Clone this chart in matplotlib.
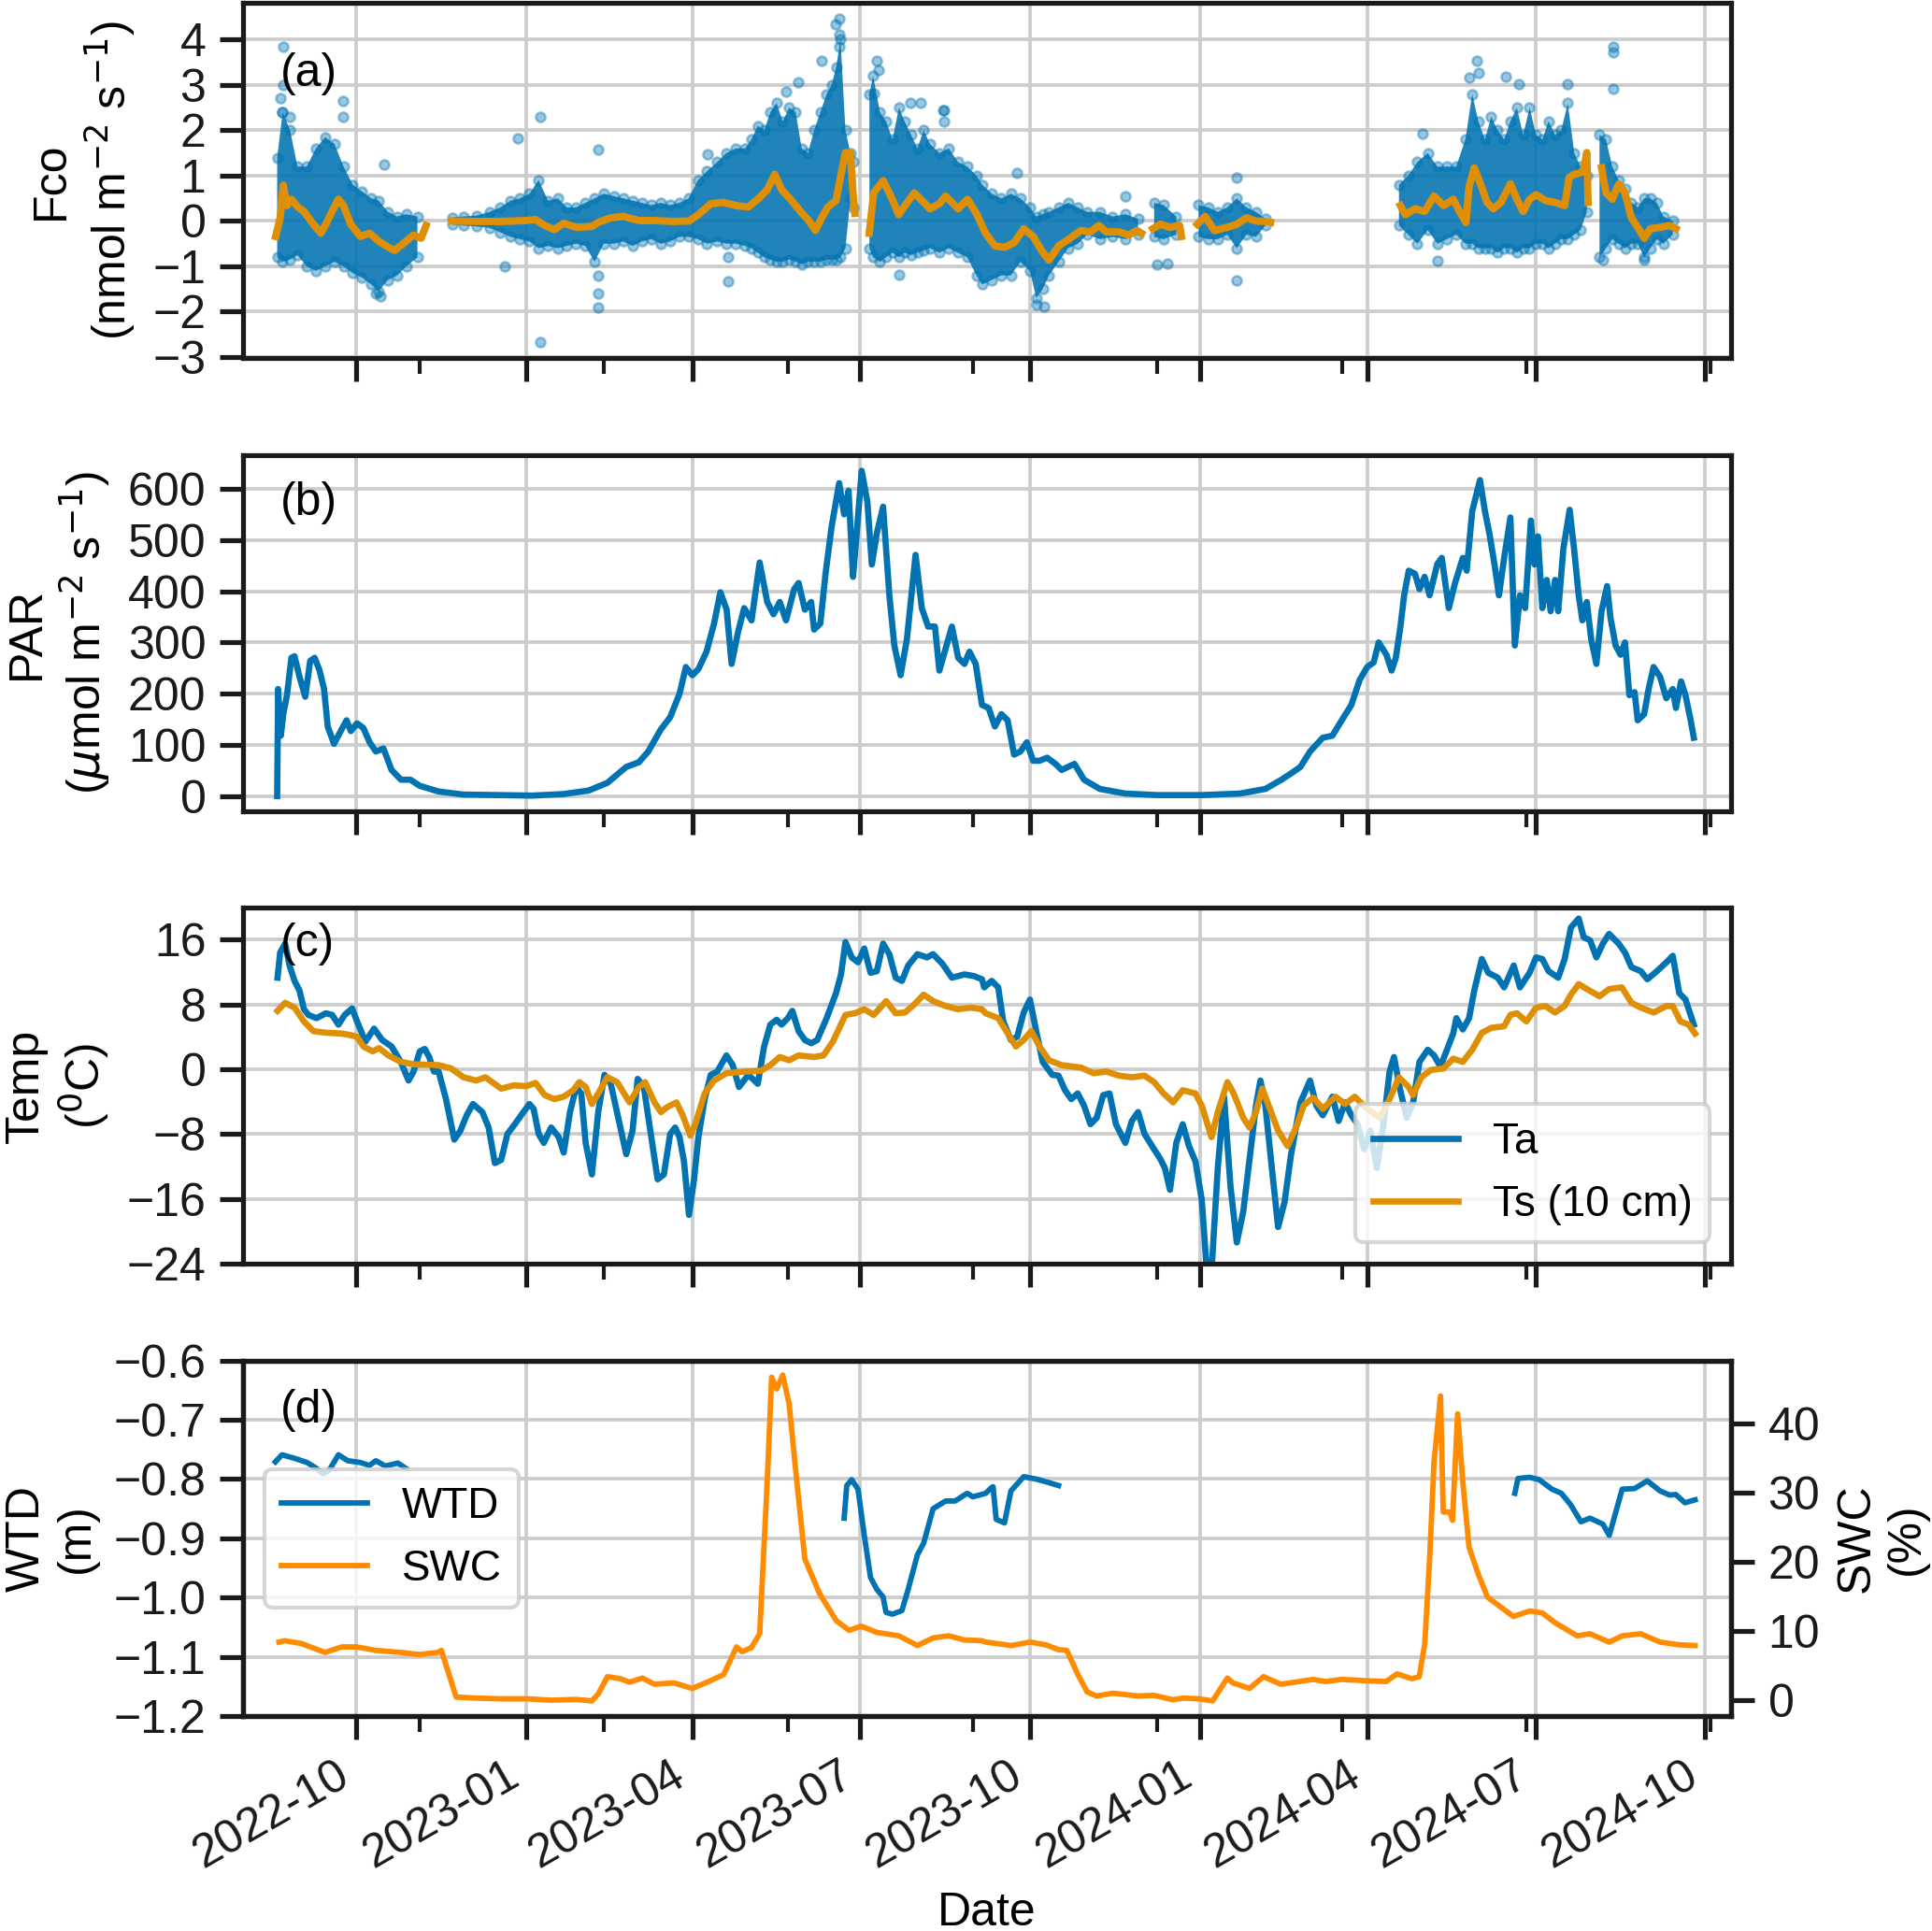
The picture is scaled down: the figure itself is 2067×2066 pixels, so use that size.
import numpy as np
import matplotlib
matplotlib.use("Agg")
import matplotlib.pyplot as plt
import matplotlib.dates as mdates
from matplotlib.ticker import MultipleLocator
from matplotlib.lines import Line2D
from datetime import datetime

plt.rcParams['font.family'] = ['Liberation Sans', 'DejaVu Sans']
plt.rcParams['axes.unicode_minus'] = True

nan = np.nan
BASE = "2022-10-01"   # day offsets below are counted from this date

# ---------------- (a) Fco ----------------
# envelope of the dense point cloud: day offset, low, high
fco_env_day = [-43, -40, -36, -32, -27, -22, -17, -12, -7, -2, 3, 8, 12, 17, 22, 27, 33, nan,
               52, 58, 65, 72, 78, 83.5, 88.6, 93.7, 98.7, 103.8, 109, 114, 119, 124, 129, 134, 139.5,
               144.6, 149.6, 154.7, 159.8, 164.9, 170, 175, 180, 185, 190, 195.5, 200.5, 205.6, 210.7,
               214, 217.5, 221, 224.3, 227.7, 231, 234.5, 238, 241.3, 244.7, 248, 251.4, 254.8, 257.5,
               260, 262.3, 265, 267.7, 269.4, nan,
               278, 280, 283.7, 287, 290.5, 294, 297, 300.6, 304, 307.4, 310.8, 315.9, 321, 326, 331, 336,
               339.1, 344.3, 349.5, 354.7, 359.8, 365, 368.4, 371.9, 375.3, 380.5, 385.7, 390.9, 396,
               403, 409.8, 416.7, 423.6, nan, 432.3, 437.4, 444.3, nan,
               456.4, 461.6, 466.8, 471.9, 477.1, 482.3, 487.5, 492.6, nan,
               565, 570, 575, 580.6, 585.8, 591, 596, 601, 604.7, 608, 611.6, 615, 618.5, 622, 625.4,
               628.9, 632.3, 635.8, 639.3, 642.7, 646.1, 649.6, 653, 656.5, 660, 663.4, 666.8, nan,
               673.7, 677.2, 680.6, 684.1, 687.5, 691, 694.4, 697.9, 701.3, 704.8, 708.3, 713.4]
fco_env_low = [-0.8, -0.9, -0.85, -0.75, -1.0, -1.1, -1.0, -0.9, -1.0, -1.15, -1.25, -1.4, -1.55, -1.3, -1.2, -1.0, -0.8, nan,
               -0.08, -0.1, -0.12, -0.15, -0.25, -0.35, -0.4, -0.45, -0.6, -0.55, -0.6, -0.55, -0.5, -0.55, -0.9, -0.5, -0.5,
               -0.45, -0.55, -0.45, -0.4, -0.5, -0.45, -0.35, -0.35, -0.4, -0.5, -0.45, -0.5, -0.5, -0.55,
               -0.6, -0.7, -0.8, -0.85, -0.9, -0.9, -0.85, -0.9, -0.95, -0.9, -0.9, -0.9, -0.85, -0.85,
               -0.85, -0.8, -0.6, 0.5, 0.3, nan,
               -0.6, -0.8, -0.9, -0.8, -0.7, -0.8, -0.7, -0.75, -0.7, -0.65, -0.6, -0.7, -0.6, -0.7, -0.8, -1.2,
               -1.4, -1.3, -1.2, -1.2, -0.9, -1.1, -1.7, -1.5, -1.2, -0.9, -0.6, -0.5, -0.3,
               -0.4, -0.35, -0.4, -0.3, nan, -0.35, -0.4, -0.3, nan,
               -0.35, -0.4, -0.4, -0.3, -0.6, -0.3, -0.35, -0.1, nan,
               -0.1, -0.3, -0.5, -0.2, -0.5, -0.4, -0.3, -0.5, -0.5, -0.6, -0.6, -0.6, -0.7, -0.6, -0.6,
               -0.7, -0.6, -0.6, -0.5, -0.5, -0.6, -0.5, -0.4, -0.4, -0.3, -0.2, 0.2, nan,
               -0.8, -0.6, -0.4, -0.5, -0.6, -0.5, -0.5, -0.8, -0.6, -0.4, -0.5, -0.3]
fco_env_high = [1.4, 2.4, 2.0, 1.2, 1.2, 1.6, 1.85, 1.7, 1.2, 0.8, 0.65, 0.5, 0.45, 0.2, 0.1, 0.15, 0.1, nan,
                0.08, 0.1, 0.12, 0.2, 0.3, 0.45, 0.5, 0.6, 0.9, 0.45, 0.5, 0.3, 0.3, 0.4, 0.5, 0.6, 0.55,
                0.5, 0.45, 0.4, 0.35, 0.4, 0.35, 0.4, 0.5, 0.9, 1.1, 1.3, 1.5, 1.6, 1.6,
                1.8, 2.1, 2.0, 2.4, 2.6, 2.2, 2.5, 2.4, 1.6, 1.5, 2.0, 2.4, 2.8, 3.0,
                3.4, 4.0, 2.0, 1.5, 1.3, nan,
                2.8, 3.2, 2.4, 2.2, 1.8, 2.5, 2.2, 1.9, 1.6, 2.0, 1.7, 1.5, 1.6, 1.3, 1.2, 1.0,
                0.8, 0.6, 0.5, 0.6, 0.5, 0.3, 0.1, 0.15, 0.2, 0.3, 0.4, 0.3, 0.2,
                0.2, 0.1, 0.15, 0.05, nan, 0.4, 0.35, 0.1, nan,
                0.35, 0.3, 0.2, 0.3, 0.5, 0.3, 0.2, 0.05, nan,
                0.8, 1.0, 1.3, 1.5, 1.2, 1.2, 1.2, 1.8, 2.8, 2.2, 1.8, 2.3, 2.0, 1.8, 2.2,
                2.5, 1.9, 2.5, 1.9, 1.8, 2.2, 1.9, 2.0, 2.6, 1.5, 1.2, 1.0, nan,
                1.9, 1.8, 1.2, 0.9, 0.7, 0.4, 0.3, 0.5, 0.5, 0.4, 0.1, 0.0]
# sparse outlying points
fco_out_day = [-39.7, -39.7, -41, -40.4, -36.3, -7.1, -7.1, 15, 10.5, 13.2, 87.2, 99.4, 131, 99.4, 131, 131, 131,
               80.4, 190.4, 201.2, 201.5, 239.6, 232.8, 252.1, 259.9, 261.6, 261.6, 261.6, 282, 283, 280.3,
               300.3, 305.7, 317.9, 293.9, 318.4, 318.4, 368.4, 372.6, 358.1, 416.7, 477.1, 477.1, 434, 439.5,
               578, 585.8, 607, 603, 608.2, 623, 630, 656.5, 681.3, 681.3, 681.3, 675.5, 697.9]
fco_out_val = [3.85, 3.0, 2.7, 2.4, 2.3, 2.64, 2.3, 1.24, -1.6, -1.65, 1.82, 2.3, 1.58, -2.68, -1.6, -1.9, -1.2,
               -1.0, 1.48, -1.34, -0.79, 3.06, 2.85, 3.54, 4.33, 4.46, 4.12, 3.85, 3.54, 3.33, 2.82,
               2.61, 2.61, 2.44, -1.19, 2.44, 2.2, -1.85, -1.89, 1.06, 0.55, 0.96, -1.3, -0.96, -0.93,
               1.92, -0.88, 3.54, 3.16, 3.26, 3.19, 3.02, 3.02, 3.85, 3.71, 2.92, -0.86, -0.86]
# running mean (orange)
fco_mean_day = [-43.8, -41.4, -39.7, -37.7, -35.3, -31.9, -28.5, -23.4, -19.3, -16.6, -13.2, -9.8, -7.1, -3.1, 2, 7.1,
                12.2, 17.3, 20.7, 25.8, 30.9, 35, 37.7, nan,
                51.9, 64.8, 78.4, 92, 97, 102.1, 107.2, 112.3, 119.1, 127.6, 131, 137.8, 144.6, 153, 161.5, 171.7,
                180.2, 185.3, 192, 198.8, 205.6, 212.4, 217.5, 222.6, 226.7, 230.4, 235.2, 240.6, 245.3, 248.7,
                252.1, 255.5, 259.9, 262.6, 265, 267.7, 269.1, 270.1, nan,
                277.9, 280.3, 285.4, 288.8, 293.9, 297.3, 302.3, 305.7, 310.8, 315.9, 319.3, 322.7, 326.1, 331.2,
                336.3, 340.9, 346, 351.2, 356.4, 361.6, 366.7, 371.9, 375.3, 380.5, 385.7, 392.6, 397.8, 402.3,
                406.4, 413.3, 418.5, 423, 425.4, nan, 431.6, 435.7, 440.9, 446.1, 447.1, nan,
                455.7, 459.9, 465, 471.9, 477.1, 482.3, 487.5, 492.6, 495.4, nan,
                565.8, 568.5, 573.7, 578.9, 584, 589.2, 594.4, 597.8, 601.3, 603, 605.8, 609.2, 612.7, 616.1,
                620.3, 625.4, 628.9, 632.3, 635.8, 639.3, 644.4, 649.6, 654.8, 657.2, 659.9, 663.4, 665.1,
                666.8, 667.5, nan,
                674.8, 677.2, 680.6, 684.1, 687.5, 691, 695.5, 697.9, 701.3, 706.5, 711.7, 715.1]
fco_mean_val = [-0.34, 0.07, 0.79, 0.34, 0.48, 0.31, 0.21, -0.07, -0.27, -0.07, 0.21, 0.48, 0.34, -0.07, -0.34, -0.27,
                -0.45, -0.58, -0.65, -0.48, -0.31, -0.38, -0.10, nan,
                0.0, -0.01, -0.01, 0.01, 0.03, -0.10, -0.19, -0.05, -0.14, -0.12, -0.03, 0.07, 0.10, 0.01, 0.01, -0.01,
                0.0, 0.14, 0.38, 0.41, 0.34, 0.31, 0.48, 0.69, 1.03, 0.69, 0.48, 0.21, 0.0, -0.21,
                0.07, 0.31, 0.45, 1.03, 1.51, 1.51, 0.62, 0.17, nan,
                -0.27, 0.62, 0.89, 0.62, 0.14, 0.34, 0.62, 0.48, 0.27, 0.38, 0.55, 0.41, 0.27, 0.48,
                0.14, -0.27, -0.55, -0.58, -0.48, -0.17, -0.34, -0.69, -0.86, -0.55, -0.41, -0.21, -0.24, -0.10,
                -0.24, -0.24, -0.31, -0.21, -0.27, nan, -0.17, -0.07, -0.14, -0.10, -0.34, nan,
                -0.07, 0.10, -0.21, -0.14, -0.07, 0.07, 0.0, -0.01, -0.03, nan,
                0.34, 0.14, 0.27, 0.21, 0.55, 0.34, 0.48, 0.21, -0.03, 0.76, 1.17, 0.82, 0.41, 0.27,
                0.41, 0.82, 0.48, 0.21, 0.48, 0.58, 0.45, 0.41, 0.34, 0.96, 1.03, 1.06, 1.13,
                1.51, 0.41, nan,
                1.17, 0.62, 0.48, 0.82, 0.62, 0.07, -0.21, -0.38, -0.17, -0.14, -0.10, -0.17]

# ---------------- (b) PAR ----------------
par_day = [-43, -42.5, -41, -39.7, -37.7, -35.3, -33.6, -30.9, -27.8, -25.1, -22.7, -20, -17.6, -15.6, -12.2, -8.1,
           -5.4, -3.1, 0.3, 3.7, 7.1, 10.5, 14.6, 19, 24.1, 29.2, 34.3, 44.5, 58, 78.4, 95.3, 112.3, 125.9, 136,
           146.2, 153, 158.1, 164.9, 170, 175.1, 178.5, 182, 185.3, 189.7, 193.8, 197.2, 200.6, 203.3, 206.7,
           210.1, 214.1, 218.5, 222.6, 226, 229.4, 232.8, 237.2, 239.6, 243, 246.4, 248, 251.4, 254.2, 257.5,
           261.6, 264.3, 266.7, 269.1, 271.1, 273.8, 276.9, 279.3, 282, 285.4, 288.8, 291.5, 294.9, 298.3, 303,
           306.4, 309.8, 313.5, 315.9, 319.3, 322.7, 326.1, 329.5, 332.2, 335.6, 339,
           342.6, 346, 349.5, 352.9, 356.4, 359.8, 363.3, 366.7, 370.2, 374.3, 378.8, 382.2, 385.7, 389.1, 394.3,
           402.9, 416.7, 434, 458.1, 478.8, 492.6, 501.3, 506.4, 511.6, 516.8, 523.7, 528.9, 534, 539.2, 543.7,
           547.8, 551.3, 554, 558.2, 561, 563.3, 565.8, 567.8, 570.3, 573.7, 576.1, 578.9, 581.6, 585.8, 588.2,
           592, 595.4, 599.6, 601.7, 604.7, 608.9, 611.6, 614, 616.8, 619.2, 622, 625.4, 627.8, 630.6, 633.4,
           636.5, 638.5, 640.3, 642.7, 645.1, 647.2, 649.6, 651.3, 654.1, 657.5, 659.9, 662.4, 664.4, 666.8,
           669.2, 672, 674.8, 677.8, 679.6, 682.4, 685.1, 687.5, 689.9, 692.7, 694.4, 697.9, 700.3, 703, 706.5,
           709.9, 713.4, 715.1, 717.9, 720.3, 723.1, 724.8]
par_val = [0, 209, 118, 160, 197, 270, 273, 233, 194, 264, 270, 245, 209, 136, 102, 130,
           148, 127, 142, 133, 105, 87, 93, 51, 32, 32, 20, 9, 3, 2, 1, 4, 11, 26,
           57, 66, 87, 130, 154, 200, 252, 236, 248, 282, 337, 398, 364, 258, 319,
           367, 343, 456, 379, 355, 379, 343, 404, 416, 364, 379, 325, 337, 434, 526,
           611, 550, 596, 428, 513, 635, 574, 452, 513, 565, 392, 294, 236, 306, 471,
           367, 331, 331, 245, 288, 331, 270, 258, 282, 258, 178,
           172, 136, 160, 148, 81, 87, 105, 69, 69, 75, 63, 51, 57, 63, 32,
           14, 5, 2, 2, 5, 14, 32, 44, 57, 87, 114, 118, 148, 178, 227,
           252, 261, 300, 276, 245, 270, 331, 392, 440, 434, 404, 428, 392, 453, 465,
           367, 416, 465, 440, 556, 617, 556, 513, 452, 392, 465, 544, 294, 392, 367,
           538, 452, 507, 367, 422, 361, 422, 361, 483, 559, 483, 392, 343, 379,
           306, 258, 361, 410, 349, 294, 276, 300, 197, 203, 148, 160, 209, 252, 233,
           191, 209, 172, 224, 197, 148, 114]

# ---------------- (c) Temperature ----------------
ta_day = [-42.8, -41.4, -38.7, -36.3, -33.6, -30.9, -28.5, -26.1, -21.7, -16.6, -13.2, -9.8, -6.4, -2.4, 0.3, 4.8,
          9.5, 13.9, 19, 24, 28.2, 30.9, 34.3, 37, 39.4, 42, 44.5, 48.5, 53, 56.3, 59.7, 63.1, 68.2, 71.6, 75,
          78.4, 81.8, 85.8, 89.2, 93.7, 96, 98.7, 101.5, 105.5, 109.6, 112.3, 115.7, 119.1, 121.8, 124.2, 127.6,
          131, 134.4, 137.8, 141.2, 146.2, 149.6, 152.4, 155.7, 159.8, 163.2, 166.6, 170, 172.7, 175.1, 177.5,
          180.2, 182.9, 185.3, 188.7, 192, 195.5, 200.5, 203.9, 207.3, 212.4, 217.5, 220.9, 224.3, 227.7, 230.4,
          233.8, 236.2, 239.6, 243, 246.4, 249.7, 254.8, 259.9, 262.6, 265, 268.4, 271.8, 275.2, 278.6, 282,
          285.4, 288.8, 292.2, 295.6, 299, 304, 309.2, 312.5, 317.6, 322.7, 329.5, 334.6, 339,
          340.2, 344.3, 347.8, 350.5, 354.7, 358.1, 361.6, 365, 368.4, 371.9, 377.1, 380.5, 384, 387.4, 390.9,
          394.3, 397.8, 401.2, 404.7, 408.1, 411.6, 416.7, 420.2, 423.6, 427.1, 432.3, 435.7, 438.1, 440.9,
          444.3, 447.8, 451.2, 454.7, 458.1, 460.9, 463.4, 466.8, 470.2, 473.7, 477.1, 480.6, 484, 487.5,
          489.9, 492.6, 496.1, 499.5, 503, 506.4, 511.6, 516.8, 520.2, 523.7, 528.9, 532.3, 535.8, 539.2,
          542.6, 546.1, 549.5, 553, 556.4, 559.9, 562.3, 565.7, 569.2, 572.7, 576.1, 580.6, 584, 587.5, 591,
          594.4, 596.1, 599.6, 603, 605.8, 609.9, 613.4, 618.5, 622, 627.2, 630.6, 635.8, 639.3, 642.7, 646.1,
          651.3, 654.8, 658.2, 662.4, 665.1, 668.6, 672, 675.5, 678.9, 684.1, 687.5, 691, 696.1, 699.6, 704.8,
          710, 713.4, 716.9, 720.3, 724.8]
ta_val = [11.3, 14.4, 15.5, 12.8, 10.9, 9.7, 7.4, 6.7, 6.3, 6.9, 6.7, 5.5, 6.7, 7.5, 5.9, 3.4,
          5.0, 3.6, 2.8, 0.9, -1.4, -0.3, 2.2, 2.5, 1.5, -0.3, -0.3, -3.7, -8.7, -7.6, -5.7, -4.3, -5.3, -7.2, -11.6,
          -11.2, -8.0, -6.8, -5.7, -4.3, -4.9, -8.0, -9.1, -7.2, -8.4, -10.3, -5.3, -2.2, -3.0, -9.1, -13.0,
          -5.3, -0.7, -1.8, -5.3, -10.5, -7.6, -1.2, -2.2, -8.4, -13.6, -13.0, -8.0, -7.2, -8.4, -11.4,
          -18.0, -13.7, -8.4, -3.7, -0.7, -0.3, 1.7, 0.5, -2.2, -0.7, -1.8, 2.8, 5.5, 6.1, 5.5,
          6.3, 7.2, 4.7, 3.6, 3.2, 3.6, 6.3, 9.4, 11.7, 15.7, 13.8, 13.2, 14.9, 11.9, 12.1,
          15.5, 14.2, 11.3, 10.9, 12.8, 14.2, 13.8, 14.2, 13.0, 11.3, 11.7, 11.5, 11.1,
          10.1, 10.9, 10.1, 5.9, 3.6, 4.0, 7.0, 8.6, 4.7, 0.9, -0.7, -0.8, -2.6, -3.7, -3.0,
          -4.5, -6.8, -6.0, -3.2, -3.0, -6.8, -9.1, -6.4, -5.3, -8.0, -9.9, -11.1, -12.2, -14.9,
          -9.1, -6.8, -9.5, -11.4, -16.1, -25.0, -25.0, -12.2, -3.4, -14.5, -21.4, -17.6, -11.1, -4.5,
          -1.4, -4.5, -12.2, -19.5, -16.4, -10.7, -4.1, -1.4, -4.5, -5.7, -3.4, -6.4, -4.1, -5.7,
          -6.8, -9.9, -7.6, -12.2, -7.2, -0.3, 1.5, -2.6, -6.0, -4.1, 0.9, 2.4, 1.7, 0.3, 2.4,
          4.4, 6.3, 4.9, 6.3, 9.7, 13.6, 11.9, 11.3, 10.1, 12.8, 10.1, 11.9, 13.8, 13.6, 12.1,
          11.3, 13.6, 17.5, 18.6, 16.3, 15.9, 13.8, 15.5, 16.7, 15.5, 14.4, 12.6, 12.1, 11.1, 12.1,
          13.2, 14.0, 9.4, 8.6, 5.5]
ts_day = [-42.8, -38.7, -33.6, -28.5, -23.4, -16.6, -8.1, -3.1, 0.3, 3.7, 8.8, 12.2, 17.3, 24, 30.9, 44.5, 51.2,
          58, 64.8, 69.9, 78.4, 85.2, 92, 97, 102, 107.2, 112.3, 117.4, 120.8, 124.2, 127.6, 131, 136, 141.2,
          148, 153, 156.4, 161.5, 165, 168.3, 173.4, 176.8, 180.9, 183.6, 188.7, 193.8, 200.5, 210.7, 219.2,
          224.3, 229.4, 234.5, 239.6, 248, 253.1, 258.2, 265, 270.1, 275.2, 280.3, 287.1, 292.2, 297.3, 302.3,
          307.4, 312.5, 319.3, 326.1, 332.9, 339,
          341, 347.8, 353, 357.4, 361.6, 365.7, 370.2, 375.3, 382.2, 392.6, 399.5, 406.4, 413.3, 420.2, 427.1,
          432.3, 437.4, 442.6, 447.8, 454.7, 458.1, 463.4, 466.8, 472, 475.4, 480.6, 484, 487.5, 490.9, 494.4,
          499.5, 504.7, 509.9, 513.3, 518.5, 523.7, 530.6, 535.8, 541, 547.8, 554.7, 559.9, 565, 570.2, 572.7,
          577.1, 582.3, 589.2, 594.4, 599.6, 604.7, 609.9, 615.1, 622, 625.4, 628.9, 634.1, 639.3, 644.4, 649.6,
          654.8, 658.2, 662.4, 666.8, 673.7, 678.9, 685.8, 691, 696.1, 703, 710, 713.4, 717.5, 722, 725.5]
ts_val = [7.2, 8.2, 7.6, 5.9, 4.7, 4.5, 4.4, 4.2, 4.0, 2.8, 2.2, 2.6, 1.7, 0.9, 0.6, 0.5, 0.1,
          -1.0, -1.4, -1.0, -2.4, -2.0, -2.1, -1.7, -3.2, -3.7, -3.4, -2.6, -1.6, -2.2, -4.3, -3.0, -1.0, -1.6,
          -4.1, -2.2, -1.6, -4.1, -5.3, -4.7, -4.1, -5.7, -8.2, -6.8, -3.0, -1.4, -0.5, -0.3, -0.2,
          0.5, 1.5, 1.1, 1.7, 1.5, 1.7, 3.4, 6.7, 6.9, 7.4, 6.7, 8.4, 6.9, 7.0, 8.0,
          9.2, 8.4, 7.8, 7.4, 7.6, 7.4,
          6.9, 6.3, 4.4, 2.8, 3.6, 4.7, 2.8, 1.1, 0.5, 0.2, -0.5, -0.3, -0.8, -1.0, -0.8,
          -1.6, -3.0, -4.1, -2.6, -3.0, -4.5, -8.4, -5.3, -1.6, -3.0, -6.0, -7.2, -5.3, -2.4, -4.5,
          -7.6, -9.5, -6.8, -4.5, -3.5, -4.9, -3.4, -4.3, -3.4, -4.9, -6.0, -3.7, -1.0, -2.2, -3.2,
          -1.0, -0.1, 0.1, 1.3, 0.9, 2.4, 4.5, 5.1, 5.3, 6.7, 6.9, 5.9, 7.6, 7.8, 7.0,
          7.8, 9.2, 10.5, 9.9, 9.0, 9.9, 10.1, 8.2, 7.6, 7.0, 7.8, 7.8, 5.9, 5.5, 4.4]

# ---------------- (d) WTD and SWC ----------------
wtd_day = [-44, -40.4, -33.6, -26.8, -21.7, -18.3, -15, -9.8, -4.8, 2, 7, 10.5, 15.6, 22.4, 26.8, nan,
           264.3, 265.7, 268.4, 271.8, 275.2, 278.6, 282, 285.4, 287, 290.5, 295.6, 299, 304, 307.4, 312.5,
           319.3, 324.4, 331, 334, 341, 344.3, 345, 346.7, 351.2, 354.7, 361.6, 368.4, 375.3, 380.5, nan,
           627.8, 629.5, 635.8, 641, 647.9, 653, 658, 663.6, 668.5, 675.5, 679, 686, 692.7, 699.6, 706.5,
           711.7, 715, 720, 725.5]
wtd_val = [-0.771, -0.759, -0.765, -0.772, -0.782, -0.791, -0.786, -0.759, -0.769, -0.772, -0.777, -0.769, -0.778,
           -0.773, -0.782, nan,
           -0.866, -0.811, -0.801, -0.817, -0.895, -0.966, -0.986, -0.999, -1.025, -1.028, -1.022, -0.986, -0.928,
           -0.908, -0.850, -0.837, -0.837, -0.824, -0.830, -0.824, -0.814, -0.813, -0.868, -0.874, -0.820, -0.796,
           -0.800, -0.806, -0.811, nan,
           -0.824, -0.799, -0.797, -0.801, -0.817, -0.824, -0.843, -0.872, -0.866, -0.876, -0.895, -0.817, -0.816,
           -0.803, -0.820, -0.827, -0.826, -0.840, -0.835]
swc_day = [-42, -39, -30, -17, -8, 0, 10.5, 24, 34, 44, 46, 54, 65, 78, 92, 105.5, 119, 127.6, 131, 136, 143,
           148, 155, 161.5, 172, 182, 190, 199, 206, 209, 214, 218.5, 222.6, 225, 227.7, 231, 234.5, 238, 243,
           251, 260, 267, 273.5, 282, 294, 304, 312.5, 321, 329.5, 339,
           341, 355, 365, 373.6, 380.5, 385, 391, 396, 401, 410, 423.6, 432, 442.6, 448, 456.4, 464, 472, 475,
           484, 491.6, 501, 518.5, 525, 534, 548, 558, 564, 572, 576, 579, 581.6, 584, 587.5, 589, 592.7, 594,
           596.8, 599.6, 603, 608, 613, 620, 627, 636, 642.7, 649.6, 661.6, 668.5, 679, 686, 696, 706.5, 717,
           725.5]
swc_val = [8.4, 8.6, 8.2, 6.9, 7.7, 7.7, 7.2, 6.9, 6.6, 6.9, 7.2, 0.45, 0.3, 0.2, 0.2, 0.0, 0.1, -0.1, 0.9, 3.4, 3.1,
           2.6, 3.2, 2.3, 2.5, 1.7, 2.6, 3.7, 7.7, 7.0, 7.6, 9.6, 31.6, 46.7, 45.0, 47.0, 42.8, 33.3, 20.4,
           15.4, 11.5, 10.1, 10.7, 9.8, 9.3, 7.9, 9.0, 9.3, 8.7, 8.6,
           8.4, 7.9, 8.4, 8.0, 7.3, 7.2, 3.7, 1.2, 0.6, 1.0, 0.6, 0.7, 0.06, 0.3, 0.2, -0.1, 3.2, 2.5,
           1.7, 3.4, 2.3, 3.0, 2.7, 3.0, 2.8, 2.7, 3.8, 3.1, 3.4, 8.2, 20.4, 34.4, 44.0, 27.2, 27.2, 26.0,
           41.4, 31.6, 22.1, 18.2, 14.9, 13.5, 12.1, 12.9, 12.6, 11.2, 9.3, 9.6, 8.4, 9.3, 9.6, 8.4, 8.0,
           7.9]

# ---------------- styling ----------------
BLUE = "#0173b2"
ORANGE = "#de8f05"
SWC_ORANGE = "#ff8c00"
SPINE = "#1a1a1a"
GRID = "#cccccc"

base_num = mdates.date2num(datetime.strptime(BASE, "%Y-%m-%d"))


def to_x(days):
    return base_num + np.asarray(days, dtype=float)


fig, axes = plt.subplots(4, 1, figsize=(2067 / 300, 2066 / 300), dpi=300, sharex=True)
fig.subplots_adjust(left=0.1258, right=0.896, top=0.9985, bottom=0.1113, hspace=0.273)


def style(ax, grid=True):
    for s in ax.spines.values():
        s.set_linewidth(1.25)
        s.set_color(SPINE)
    ax.tick_params(which='major', direction='out', length=6, width=1.25, color=SPINE,
                   labelsize=12, labelcolor=SPINE)
    ax.tick_params(which='minor', direction='out', length=4, width=1.0, color=SPINE)
    if grid:
        ax.grid(True, which='major', color=GRID, linewidth=0.9)
        ax.set_axisbelow(True)


# (a)
ax = axes[0]
style(ax)
xe = to_x(fco_env_day)
ax.fill_between(xe, fco_env_low, fco_env_high, color=BLUE, alpha=0.88, linewidth=0)
for yy in (fco_env_low, fco_env_high):
    ax.scatter(xe, yy, s=6, color=BLUE, alpha=0.4, linewidths=0.6)
ax.scatter(to_x(fco_out_day), fco_out_val, s=6, color=BLUE, alpha=0.4, linewidths=0.6)
ax.plot(to_x(fco_mean_day), fco_mean_val, color=ORANGE, lw=1.9)
ax.set_ylim(-3.03, 4.81)
ax.set_yticks(np.arange(-3, 5, 1))
ax.set_ylabel("Fco\n(nmol m$^{-2}$ s$^{-1}$)", fontsize=12)
ax.text(0.025, 0.80, "(a)", transform=ax.transAxes, fontsize=12, va='center', ha='left')

# (b)
ax = axes[1]
style(ax)
ax.plot(to_x(par_day), par_val, color=BLUE, lw=1.6)
ax.set_ylim(-29, 665)
ax.set_yticks(np.arange(0, 700, 100))
ax.set_ylabel("PAR\n($\\mu$mol m$^{-2}$ s$^{-1}$)", fontsize=12)
ax.text(0.025, 0.868, "(b)", transform=ax.transAxes, fontsize=12, va='center', ha='left')

# (c)
ax = axes[2]
style(ax)
ax.plot(to_x(ta_day), ta_val, color=BLUE, lw=1.6, label="Ta")
ax.plot(to_x(ts_day), ts_val, color=ORANGE, lw=1.6, label="Ts (10 cm)")
ax.set_ylim(-24, 19.9)
ax.set_yticks(np.arange(-24, 17, 8))
ax.set_ylabel("Temp\n($^{0}$C)", fontsize=12)
ax.text(0.025, 0.90, "(c)", transform=ax.transAxes, fontsize=12, va='center', ha='left')
ax.legend(loc='lower right', fontsize=11)

# (d)
ax = axes[3]
style(ax)
ax.plot(to_x(wtd_day), wtd_val, color=BLUE, lw=1.4)
ax.set_ylim(-1.2, -0.6)
ax.set_yticks(np.round(np.arange(-1.2, -0.55, 0.1), 1))
ax.yaxis.set_major_formatter(matplotlib.ticker.FuncFormatter(lambda v, p: f"{v:.1f}".replace("-", "\u2212")))
ax.set_ylabel("WTD\n(m)", fontsize=12)
ax.text(0.025, 0.861, "(d)", transform=ax.transAxes, fontsize=12, va='center', ha='left')
ax2 = ax.twinx()
style(ax2, grid=False)
ax2.plot(to_x(swc_day), swc_val, color=SWC_ORANGE, lw=1.4)
ax2.set_ylim(-2.3, 49.1)
ax2.set_yticks([0, 10, 20, 30, 40])
ax2.set_ylabel("SWC\n(%)", fontsize=12)
handles = [Line2D([], [], color=BLUE, lw=1.4), Line2D([], [], color=SWC_ORANGE, lw=1.4)]
ax2.legend(handles, ["WTD", "SWC"], loc='center left', fontsize=11)

# shared date axis
axes[3].xaxis_date()
axes[3].xaxis.set_major_locator(mdates.MonthLocator(bymonth=[1, 4, 7, 10]))
axes[3].xaxis.set_major_formatter(mdates.DateFormatter('%Y-%m'))
axes[3].xaxis.set_minor_locator(MultipleLocator(100))
axes[3].set_xlim(mdates.date2num(datetime(2022, 7, 31, 12)), mdates.date2num(datetime(2024, 10, 15)))
plt.setp(axes[3].get_xticklabels(), rotation=30, ha='right')
axes[3].set_xlabel("Date", fontsize=12)

fig.savefig("out.png", dpi=300)
